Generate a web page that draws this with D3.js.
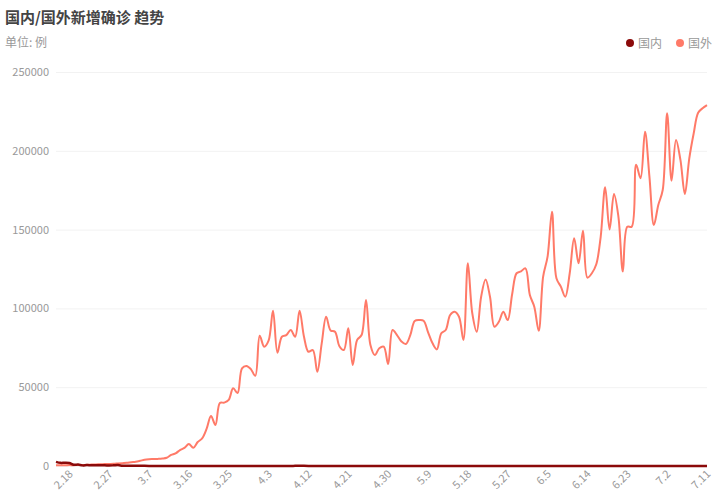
<!DOCTYPE html>
<html>
<head>
<meta charset="utf-8">
<script src="https://cdn.jsdelivr.net/npm/d3@7"></script>
<style>
  html, body { margin: 0; padding: 0; background: #fff; }
  svg { display: block; font-family: "Noto Sans CJK SC", "Noto Sans", sans-serif; }
</style>
</head>
<body>
<svg id="chart" width="719" height="500"></svg>
<script>
// ---- data ----
const startDate = "2020-02-15";
const domestic = [
  2641, 2009, 2048, 1886, 820, 889, 397, 648, 409, 508,
  406, 433, 327, 427, 573, 202, 125, 119, 139, 143,
  99, 44, 40, 19, 24, 15, 20, 21, 39, 41,
  46, 39, 78, 47, 67, 54, 31, 45, 55, 48,
  31, 35, 31, 30, 39, 48, 36, 35, 31, 25,
  35, 30, 62, 46, 99, 108, 89, 46, 26, 27,
  30, 11, 20, 12, 11, 10, 12, 6, 11, 6,
  22, 3, 6, 12, 4, 2, 1, 3, 2, 1,
  2, 4, 14, 17, 1, 7, 1, 7, 5, 3,
  6, 3, 4, 11, 5, 3, 4, 2, 7, 5,
  4, 2, 2, 6, 3, 5, 4, 1, 4, 2,
  3, 5, 7, 3, 8, 11, 57, 36, 49, 27,
  25, 22, 26, 12, 13, 11, 3, 21, 7, 6,
  3, 4, 1, 4, 6, 8, 5, 6, 4, 3,
  7, 10, 8, 11, 6, 5, 7, 8
];
const foreign = [
  400, 500, 400, 600, 500, 700, 600, 800, 900, 1000,
  1100, 1200, 1300, 1400, 1600, 1800, 2000, 2400, 2700, 3300,
  4000, 4300, 4400, 4500, 4700, 5200, 7000, 8000, 10100, 11500,
  14000, 11600, 15200, 17500, 23500, 31700, 26000, 40000, 40200, 41900,
  49300, 46300, 62000, 63500, 61500, 57200, 82600, 75700, 79500, 98500,
  71900, 82000, 83000, 86300, 82000, 98500, 82000, 72500, 73600, 59800,
  77800, 94700, 86000, 85200, 76000, 73600, 87400, 64100, 80000, 83100,
  105300, 76800, 70400, 74700, 75700, 64700, 86300, 83100, 79000, 77400,
  83000, 92000, 92600, 92200, 85000, 78000, 74000, 84200, 86300, 95800,
  97900, 94700, 80000, 128600, 96900, 85200, 107400, 118400, 107400, 88400,
  91500, 97900, 92600, 109000, 122300, 123500, 125400, 108500, 101100, 85800,
  120100, 132800, 161300, 119100, 113800, 107400, 122300, 144500, 128600, 149300,
  119500, 122300, 128000, 145600, 176800, 150100, 172600, 158100, 123400, 151800,
  151800, 191100, 182600, 212100, 183600, 152900, 165600, 175100, 223800, 181000,
  206900, 194200, 172600, 195200, 211100, 224200, 227000, 229000
];
const yTicks = [0, 50000, 100000, 150000, 200000, 250000];
const seriesNames = ["国内", "国外"];
const seriesColors = ["#8b0a0a", "#ff7a68"];
const labelEvery = 9, labelOffset = 3;

// categories: M.D labels for each day
const parse = d3.timeParse("%Y-%m-%d");
const d0 = parse(startDate);
const categories = domestic.map((_, i) => {
  const d = d3.timeDay.offset(d0, i);
  return (d.getMonth() + 1) + "." + d.getDate();
});

// ---- layout ----
const svg = d3.select("#chart");
const plot = { left: 56, right: 707, top: 72, bottom: 466 };

const x = d3.scalePoint().domain(categories).range([plot.left, plot.right]);
const y = d3.scaleLinear().domain([0, 250000]).range([plot.bottom, plot.top]);

// title
svg.append("text").attr("x", 5).attr("y", 23)
  .attr("font-size", 15).attr("font-weight", "bold").attr("fill", "#444")
  .text("国内/国外新增确诊 趋势");
svg.append("text").attr("x", 5).attr("y", 47)
  .attr("font-size", 12).attr("fill", "#999")
  .text("单位: 例");

// grid
const yAxis = svg.append("g").attr("transform", `translate(${plot.left},0)`)
  .call(d3.axisLeft(y).tickValues(yTicks).tickSize(-(plot.right - plot.left)).tickPadding(7).tickFormat(d3.format("d")));
yAxis.select(".domain").remove();
yAxis.selectAll(".tick line").attr("stroke", "#f2f2f2");
yAxis.selectAll(".tick text").attr("fill", "#999").attr("font-size", 11)
  .attr("font-family", "'Noto Sans CJK SC', sans-serif");

// x axis labels
const xLabelCats = categories.filter((_, i) => i >= labelOffset && (i - labelOffset) % labelEvery === 0);
const xAxis = svg.append("g").attr("transform", `translate(0,${plot.bottom})`)
  .call(d3.axisBottom(x).tickValues(xLabelCats).tickSize(0).tickPadding(0));
xAxis.select(".domain").remove();
xAxis.selectAll(".tick text")
  .attr("fill", "#999").attr("font-size", 11)
  .attr("font-family", "'Noto Sans CJK SC', sans-serif")
  .attr("text-anchor", "end")
  .attr("dy", "0.35em")
  .attr("transform", "translate(1,6) rotate(-45)");

// lines
const line = (vals) => d3.line()
  .x((d, i) => x(categories[i]))
  .y(d => y(d))
  .curve(d3.curveCatmullRom.alpha(0.5))(vals);

svg.append("path").attr("d", line(foreign))
  .attr("fill", "none").attr("stroke", seriesColors[1]).attr("stroke-width", 2);
svg.append("path").attr("d", line(domestic))
  .attr("fill", "none").attr("stroke", seriesColors[0]).attr("stroke-width", 2.5);

// legend
const legend = svg.append("g");
const lx = [630, 680];
seriesNames.forEach((name, k) => {
  legend.append("circle").attr("cx", lx[k]).attr("cy", 43).attr("r", 4).attr("fill", seriesColors[k]);
  legend.append("text").attr("x", lx[k] + 8).attr("y", 47.5)
    .attr("font-size", 12).attr("fill", "#999").text(name);
});
</script>
</body>
</html>
